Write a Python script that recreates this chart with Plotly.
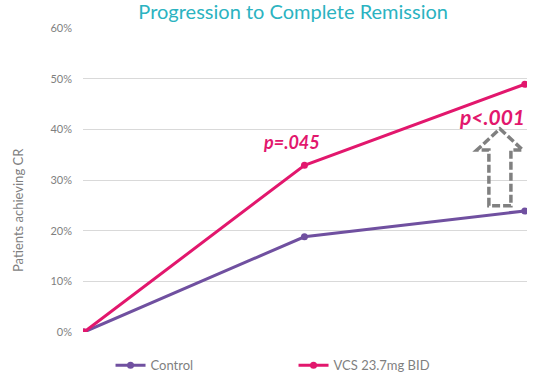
import plotly.graph_objects as go

timepoints = [0, 1, 2]
control = [0, 18.8, 23.9]
vcs = [0, 32.9, 48.9]
series_names = ["Control", "VCS 23.7mg BID"]
tick_vals = [0, 10, 20, 30, 40, 50, 60]
tick_text = ["0%", "10%", "20%", "30%", "40%", "50%", "60%"]

PINK = "#e2176d"
PURPLE = "#7050a0"
GRAY = "#7f7f7f"
FONT = "Lato, 'Open Sans', sans-serif"

fig = go.Figure()
fig.add_trace(go.Scatter(x=timepoints, y=control, name=series_names[0], mode="lines+markers",
                         line=dict(color=PURPLE, width=3), marker=dict(size=7, color=PURPLE)))
fig.add_trace(go.Scatter(x=timepoints, y=vcs, name=series_names[1], mode="lines+markers",
                         line=dict(color=PINK, width=3), marker=dict(size=7, color=PINK)))

# dashed outline arrow
ax = [1.837, 1.837, 1.782, 1.887, 1.991, 1.937, 1.937]
ay = [24.9, 35.9, 35.9, 40.1, 35.9, 35.9, 24.9]
path = "M " + " L ".join(f"{x},{y}" for x, y in zip(ax, ay)) + " Z"
fig.add_shape(type="path", path=path, xref="x", yref="y",
              line=dict(color="#808080", width=3.5, dash="8px,3px"), fillcolor="rgba(0,0,0,0)")

fig.add_annotation(x=1, y=33, text="<b><i>p=.045</i></b>", showarrow=False, xref="x", yref="y",
                   xshift=-13, yshift=23, font=dict(family=FONT, size=18, color=PINK))
fig.add_annotation(x=2, y=49, text="<b><i>p<.001</i></b>", showarrow=False, xref="x", yref="y",
                   xshift=-33, yshift=-33, font=dict(family=FONT, size=21, color=PINK))
fig.add_annotation(x=0.0, y=0.401, xref="paper", yref="paper", text="Patients achieving CR",
                   textangle=-90, showarrow=False, xshift=-75,
                   font=dict(family=FONT, size=13, color=GRAY))

fig.update_layout(
    width=548, height=384,
    margin=dict(l=83, r=21, t=28, b=52, autoexpand=False),
    paper_bgcolor="white", plot_bgcolor="white",
    title=dict(text="Progression to Complete Remission", x=0.535, xanchor="center", y=0.968, yanchor="middle",
               font=dict(family=FONT, size=20, color="#2bb3c1")),
    xaxis=dict(range=[-0.005, 2.01], showgrid=False, showticklabels=False, zeroline=False, showline=False),
    yaxis=dict(range=[0, 60], tickvals=tick_vals, ticktext=tick_text, showgrid=True, gridcolor="#d9d9d9",
               gridwidth=1, zeroline=False, ticks="", ticklabelstandoff=10,
               tickfont=dict(family=FONT, size=11, color=GRAY)),
    legend=dict(orientation="h", x=0.062, xanchor="left", y=-0.06, yanchor="top",
                entrywidth=138, entrywidthmode="pixels", itemwidth=30,
                font=dict(family=FONT, size=13, color=GRAY)),
    showlegend=True,
)

fig.write_html("out.html", config={"displayModeBar": False},
               post_script="document.body.style.margin='0';")
